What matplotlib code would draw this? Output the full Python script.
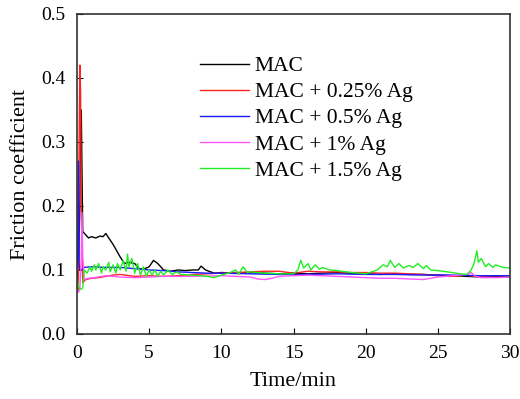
import numpy as np
import matplotlib.pyplot as plt

plt.rcParams['font.family'] = 'Liberation Serif'

# time (min) / friction coefficient for each sample
t_mac = [0, 0.1, 0.2, 0.25, 0.3, 0.35, 0.4, 0.6, 0.8, 1.0, 1.3, 1.6, 1.8, 2.0, 2.2,
         2.5, 2.8, 3.0, 3.3, 3.6, 4.0, 4.3, 4.6, 5.0, 5.3, 5.6, 6.0, 6.5, 7.0, 7.5,
         8.0, 8.4, 8.6, 8.9, 9.5, 10.0, 11, 12, 13, 14, 15, 16, 17, 18, 19, 20,
         21, 22, 23, 24, 25, 26, 27, 28, 29, 30]
f_mac = [0.09, 0.1, 0.2, 0.33, 0.35, 0.25, 0.16, 0.155, 0.15, 0.152, 0.15, 0.153, 0.152,
         0.157, 0.15, 0.14, 0.128, 0.12, 0.11, 0.112, 0.11, 0.102, 0.101, 0.105, 0.115,
         0.11, 0.1, 0.098, 0.1, 0.099, 0.1, 0.1, 0.106, 0.1, 0.095, 0.096, 0.095, 0.096,
         0.095, 0.094, 0.095, 0.094, 0.095, 0.096, 0.095, 0.094, 0.093, 0.094, 0.093,
         0.093, 0.092, 0.091, 0.09, 0.089, 0.09, 0.089]

t_025 = [0, 0.1, 0.15, 0.2, 0.25, 0.3, 0.4, 0.6, 1.0, 1.5, 2.0, 2.5, 3.0, 4.0, 5.0,
         6.0, 7.0, 8.0, 9.0, 10, 11, 12, 13, 14, 15, 16, 17, 18, 19, 20, 21, 22, 23,
         24, 25, 26, 27, 27.5, 28, 29, 30]
f_025 = [0.09, 0.07, 0.3, 0.42, 0.38, 0.2, 0.08, 0.085, 0.087, 0.088, 0.09, 0.092,
         0.093, 0.09, 0.091, 0.09, 0.091, 0.093, 0.094, 0.095, 0.096, 0.097, 0.098,
         0.098, 0.095, 0.098, 0.097, 0.097, 0.096, 0.096, 0.095, 0.095, 0.094, 0.093,
         0.091, 0.09, 0.092, 0.09, 0.09, 0.091, 0.091]

t_05 = [0, 0.05, 0.1, 0.15, 0.2, 0.3, 0.5, 1.0, 2.0, 3.0, 4.0, 5.0, 6.0, 7.0, 8.0,
        9.0, 10, 12, 14, 16, 18, 20, 22, 24, 26, 28, 30]
f_05 = [0.1, 0.12, 0.27, 0.11, 0.1, 0.1, 0.104, 0.105, 0.104, 0.104, 0.102, 0.1,
        0.099, 0.097, 0.096, 0.095, 0.095, 0.094, 0.093, 0.093, 0.094, 0.093, 0.093,
        0.092, 0.092, 0.091, 0.091]

t_1 = [0, 0.1, 0.2, 0.3, 0.35, 0.4, 0.5, 0.8, 1.2, 2.0, 3.0, 4.0, 5.0, 6.0, 8.0,
       10, 11, 12, 12.5, 13, 13.5, 14, 15, 16, 17, 18, 19, 20, 21, 22, 23, 24,
       25, 26, 27, 27.3, 27.6, 28, 29, 30]
f_1 = [0.07, 0.065, 0.07, 0.12, 0.19, 0.12, 0.085, 0.087, 0.088, 0.091, 0.089,
       0.088, 0.089, 0.09, 0.09, 0.091, 0.09, 0.089, 0.086, 0.085, 0.087, 0.09,
       0.091, 0.092, 0.091, 0.09, 0.089, 0.088, 0.087, 0.087, 0.086, 0.085, 0.089,
       0.091, 0.093, 0.096, 0.09, 0.088, 0.088, 0.089]

t_15 = [0, 0.1, 0.2, 0.3, 0.4, 0.5, 0.7, 0.9, 1.0, 1.2, 1.3, 1.5, 1.7, 1.8, 2.0,
        2.2, 2.3, 2.5, 2.7, 2.8, 3.0, 3.2, 3.4, 3.5, 3.6, 3.8, 4.0, 4.2, 4.4, 4.6,
        4.8, 5.0, 5.2, 5.4, 5.6, 5.8, 6.0, 6.3, 6.6, 6.9, 7.2, 8.0, 9.0, 9.5, 10.0,
        10.5, 11.0, 11.2, 11.5, 11.8, 12.0, 13.0, 14.0, 15.0, 15.3, 15.5, 15.7,
        16.0, 16.2, 16.5, 16.8, 17.0, 17.5, 18.0, 19.0, 20.0, 20.8, 21.2, 21.5,
        21.7, 22.0, 22.3, 22.6, 23.0, 23.3, 23.6, 24.0, 24.2, 24.5, 25.0, 26.0,
        26.5, 27.0, 27.3, 27.5, 27.7, 27.8, 28.0, 28.3, 28.5, 28.8, 29.0, 29.5, 30.0]
f_15 = [0.09, 0.075, 0.07, 0.07, 0.072, 0.1, 0.095, 0.105, 0.098, 0.108, 0.1, 0.11,
        0.095, 0.105, 0.1, 0.112, 0.097, 0.108, 0.095, 0.11, 0.1, 0.115, 0.098,
        0.125, 0.105, 0.118, 0.095, 0.11, 0.092, 0.105, 0.09, 0.1, 0.092, 0.1, 0.09,
        0.098, 0.092, 0.1, 0.093, 0.097, 0.093, 0.092, 0.09, 0.088, 0.092, 0.095,
        0.1, 0.093, 0.105, 0.096, 0.097, 0.095, 0.094, 0.094, 0.1, 0.115, 0.103,
        0.11, 0.1, 0.108, 0.101, 0.104, 0.1, 0.099, 0.096, 0.094, 0.1, 0.108, 0.105,
        0.115, 0.104, 0.11, 0.103, 0.107, 0.104, 0.11, 0.102, 0.107, 0.1, 0.099,
        0.096, 0.094, 0.093, 0.1, 0.11, 0.13, 0.112, 0.118, 0.105, 0.11, 0.104,
        0.108, 0.104, 0.103]

labels = ["MAC", "MAC + 0.25% Ag", "MAC + 0.5% Ag", "MAC + 1% Ag", "MAC + 1.5% Ag"]
colors = ["#000000", "#ff2222", "#1a1aff", "#ff55ff", "#22ee22"]

fig = plt.figure(figsize=(5.2, 3.99), dpi=100)
ax = fig.add_axes([0.148, 0.163, 0.833, 0.802])

series = [(t_mac, f_mac), (t_025, f_025), (t_05, f_05), (t_1, f_1), (t_15, f_15)]
for (t, f), lab, c in zip(series, labels, colors):
    ax.plot(t, f, color=c, lw=1.0, label=lab)

ax.set_xlim(0, 30)
ax.set_ylim(0, 0.5)
ax.set_xticks(np.arange(0, 31, 5))
ax.set_yticks(np.arange(0, 0.51, 0.1))
ax.set_yticklabels(["0.0", "0.1", "0.2", "0.3", "0.4", "0.5"])
ax.tick_params(direction="in", labelsize=14, length=4, top=False, right=False)
ax.tick_params(axis="x", pad=8)
ax.tick_params(axis="y", pad=8)
for s in ax.spines.values():
    s.set_linewidth(1.2)
    s.set_color("#333333")

ax.set_xlabel("Time/min", fontsize=16, labelpad=7)
ax.set_ylabel("Friction coefficient", fontsize=16, labelpad=8)

ax.legend(loc="upper left", bbox_to_anchor=(0.284, 0.868), frameon=False, fontsize=15.5,
          handlelength=2.3, labelspacing=0.28, handletextpad=0.25,
          borderpad=0, borderaxespad=0)

fig.savefig("out.png", dpi=100)
